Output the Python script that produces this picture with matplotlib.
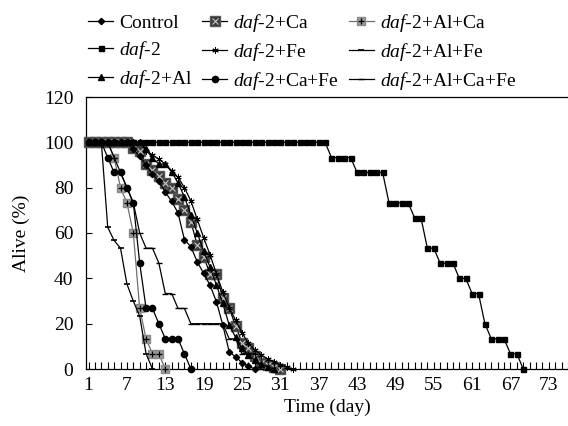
import matplotlib
matplotlib.use('Agg')
import matplotlib.pyplot as plt

plt.rcParams['font.family'] = ['Liberation Serif', 'DejaVu Serif']
plt.rcParams['mathtext.fontset'] = 'custom'
plt.rcParams['mathtext.it'] = 'Liberation Serif:italic'
plt.rcParams['mathtext.rm'] = 'Liberation Serif'

# ---------------- data (percent alive per day, day 1 onwards) ----------------
control = [100, 100, 100, 100, 100, 100, 100, 97, 93.8, 90, 86, 82.8, 78, 74,
           68.8, 57, 54, 47.3, 42.2, 37, 29.7, 19.4, 7.6, 5.4, 2.8, 1.3, 0]
daf2 = [100, 100, 100, 100, 100, 100, 100, 100, 100, 100,
        100, 100, 100, 100, 100, 100, 100, 100, 100, 100,
        100, 100, 100, 100, 100, 100, 100, 100, 100, 100,
        100, 100, 100, 100, 100, 100, 100, 100,
        93.3, 93.3, 93.3, 93.3, 86.7, 86.7, 86.7, 86.7, 86.7,
        73.3, 73.3, 73.3, 73.3, 66.7, 66.7, 53.3, 53.3,
        46.7, 46.7, 46.7, 40, 40, 33.3, 33.3, 20,
        13.3, 13.3, 13.3, 6.7, 6.7, 0]
daf2_al = [100, 100, 100, 100, 100, 100, 100, 100, 100, 97, 93, 90.4, 90.4, 87,
           82, 76, 68, 60, 52, 45, 37, 29, 19.4, 14, 9.1, 6, 4, 2, 1, 0]
daf2_ca = [100, 100, 100, 100, 100, 100, 100, 97.5, 96.3, 90.4, 88, 85, 82, 79.8,
           75, 70.3, 65, 54.8, 49.6, 42, 42, 31.2, 26.9, 19, 11.6, 9.1, 5.7, 2.8,
           1.8, 0.9, 0]
daf2_fe = [100, 100, 100, 100, 100, 100, 100, 100, 100, 96.3, 94.5, 92.5, 90.5,
           87.5, 84.6, 80, 74.2, 66, 58, 50.4, 42, 34, 27, 21.6, 16, 11.3, 8.5,
           6.2, 4.5, 3.2, 1.8, 0.9, 0]
daf2_cafe = [100, 100, 100, 93.3, 86.7, 86.7, 80, 73.3, 46.7, 26.7, 26.7, 20,
             13.3, 13.3, 13.3, 6.7, 0]
daf2_alca = [100, 100, 100, 100, 93.3, 80, 73.3, 60, 26.7, 13.3, 6.7, 6.7, 0]
daf2_alfe = [100, 100, 100, 62.5, 56.7, 53.3, 37.5, 30, 23.3, 6.7, 0]
daf2_alcafe = [100, 100, 100, 100, 93.3, 86.7, 80, 73.3, 60, 53.3, 53.3, 46.7,
               33.3, 33.3, 26.7, 26.7, 20, 20, 20, 20, 20, 20, 13.3, 13.3, 6.7,
               6.7, 6.7, 0]

labels = ['Control', r'$\mathit{daf}$-2', r'$\mathit{daf}$-2+Al',
          r'$\mathit{daf}$-2+Ca', r'$\mathit{daf}$-2+Fe', r'$\mathit{daf}$-2+Ca+Fe',
          r'$\mathit{daf}$-2+Al+Ca', r'$\mathit{daf}$-2+Al+Fe',
          r'$\mathit{daf}$-2+Al+Ca+Fe']
xtick_labels = ['1', '7', '13', '19', '25', '31', '37', '43', '49', '55', '61', '67', '73']

# ---------------- figure ----------------
fig = plt.figure(figsize=(5.68, 4.26), dpi=100)
ax = fig.add_axes([86 / 568, 1 - 369 / 426, 482 / 568, 272 / 426])

def days(v):
    return list(range(1, len(v) + 1))

handles = []
lw = 0.9

h, = ax.plot(days(control), control, color='black', lw=lw, marker='D', ms=3.2,
             mfc='black', mec='black', clip_on=False, zorder=5)
handles.append(h)
h, = ax.plot(days(daf2), daf2, color='black', lw=lw, marker='s', ms=3.6,
             mfc='black', mec='black', clip_on=False, zorder=5)
handles.append(h)
h, = ax.plot(days(daf2_al), daf2_al, color='black', lw=lw, marker='^', ms=4.5,
             mfc='black', mec='black', clip_on=False, zorder=5)
handles.append(h)
h1, = ax.plot(days(daf2_ca), daf2_ca, color='black', lw=lw, marker='s', ms=6.5,
              mfc='#3c3c3c', mec='#555555', clip_on=False, zorder=4)
h2, = ax.plot(days(daf2_ca), daf2_ca, ls='none', marker='x', ms=4, mew=0.8,
              color='#c8c8c8', clip_on=False, zorder=4)
handles.append((h1, h2))
h, = ax.plot(days(daf2_fe), daf2_fe, color='black', lw=lw, marker=(6, 2, 0), ms=4.5,
             mew=0.7, mec='black', clip_on=False, zorder=5)
handles.append(h)
h, = ax.plot(days(daf2_cafe), daf2_cafe, color='black', lw=lw, marker='o', ms=4.5,
             mfc='black', mec='black', clip_on=False, zorder=5)
handles.append(h)
h1, = ax.plot(days(daf2_alca), daf2_alca, color='#707070', lw=lw, marker='s', ms=6,
              mfc='#9a9a9a', mec='#8a8a8a', clip_on=False, zorder=3)
h2, = ax.plot(days(daf2_alca), daf2_alca, ls='none', marker='+', ms=4.5, mew=0.9,
              color='black', clip_on=False, zorder=3)
handles.append((h1, h2))
h, = ax.plot(days(daf2_alfe), daf2_alfe, color='black', lw=lw, marker='_', ms=5,
             mew=1.2, mec='black', clip_on=False, zorder=5)
handles.append(h)
h, = ax.plot(days(daf2_alcafe), daf2_alcafe, color='black', lw=lw, marker='_', ms=4,
             mew=1.0, mec='black', clip_on=False, zorder=5)
handles.append(h)

# axes
ax.set_xlim(0.6, 76)
ax.set_ylim(0, 120)
ax.set_yticks([0, 20, 40, 60, 80, 100, 120])
all_days = list(range(1, 77))
ax.set_xticks(all_days)
ax.set_xticklabels([str(d) if str(d) in xtick_labels else '' for d in all_days])
ax.tick_params(axis='x', direction='in', length=5, width=0.8, labelsize=14, pad=6)
ax.tick_params(axis='y', direction='in', length=4, width=0.8, labelsize=14, pad=9)
ax.spines['right'].set_visible(False)
for s in ['left', 'bottom', 'top']:
    ax.spines[s].set_linewidth(0.9)

ax.set_xlabel('Time (day)', fontsize=14, labelpad=3)
ax.set_ylabel('Alive (%)', fontsize=14, labelpad=10)

fig.legend(handles, labels, ncol=3, loc='upper left',
           bbox_to_anchor=(88 / 568, 1 - 12 / 426), frameon=False, fontsize=14,
           handlelength=1.3, handletextpad=0.3, columnspacing=0.5,
           labelspacing=0.35, borderaxespad=0, borderpad=0)

fig.savefig('out.png', dpi=100)
